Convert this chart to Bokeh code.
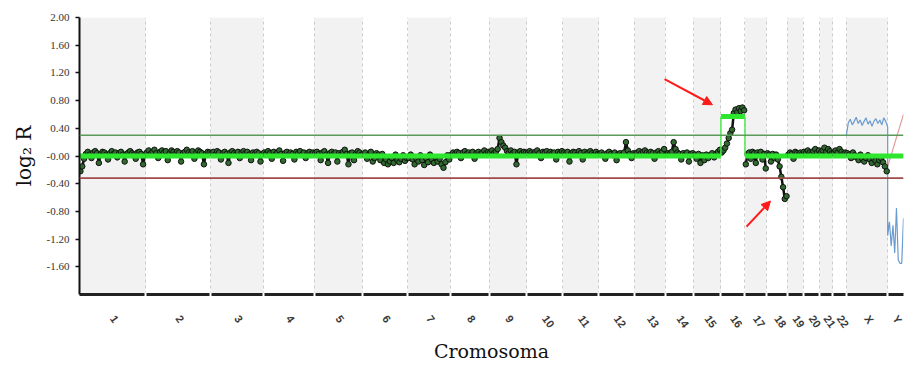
import math
from bokeh.plotting import figure
from bokeh.models import FixedTicker, Arrow, NormalHead, Span
from bokeh.embed import file_html
from bokeh.resources import INLINE

# ---------------- data ----------------
chromosomes = ["1", "2", "3", "4", "5", "6", "7", "8", "9", "10", "11", "12",
               "13", "14", "15", "16", "17", "18", "19", "20", "21", "22", "X", "Y"]
chrom_sizes_mb = [249.3, 243.2, 198.0, 191.2, 180.9, 171.1, 159.1, 146.4, 141.2, 135.5,
                  135.0, 133.9, 115.2, 107.3, 102.5, 90.4, 81.2, 78.1, 59.1, 63.0,
                  48.1, 51.3, 155.3, 59.4]

y_ticks = [2.0, 1.6, 1.2, 0.8, 0.4, 0.0, -0.4, -0.8, -1.2, -1.6]
y_tick_labels = ["2.00", "1.60", "1.20", "0.80", "0.40", "-0.00", "-0.40", "-0.80", "-1.20", "-1.60"]

gain_threshold = 0.30
loss_threshold = -0.32

# segmented mean per chromosome (green)
segment_means = [0, 0, 0, 0, 0, 0, 0, 0, 0, 0, 0, 0, 0, 0, 0, 0.57, 0, 0, 0, 0, 0, 0, 0, 0]

# probe log2 ratios per chromosome (black/green dots)
log2_chr1 = [-0.22, -0.15, -0.04, 0.03, 0.06, 0.02, -0.03, 0.05, 0.07, 0.04, -0.10, 0.03,
             0.06, 0.05, 0.02, -0.05, 0.04, 0.07, 0.03, 0.05, -0.02, 0.04, 0.06, 0.02,
             -0.08, 0.03, 0.05, 0.07, 0.04, 0.02, -0.04, 0.05, 0.06, 0.03, -0.12, 0.02]
log2_chr2 = [0.05, 0.08, 0.03, 0.06, 0.09, 0.04, -0.03, 0.06, 0.08, 0.05, 0.07, -0.06,
             0.04, 0.08, 0.06, 0.03, 0.07, 0.05, -0.08, 0.04, 0.06, 0.09, 0.05, 0.03,
             0.07, -0.04, 0.05, 0.08, 0.06, 0.04, -0.12, 0.03, 0.06, 0.05]
log2_chr3 = [0.04, 0.06, 0.02, 0.07, 0.05, -0.05, 0.04, 0.06, 0.03, -0.10, 0.05, 0.07,
             0.04, 0.02, 0.06, -0.03, 0.05, 0.07, 0.04, 0.06, 0.02, -0.06, 0.05, 0.03,
             0.06, 0.04, -0.08, 0.03]
log2_chr4 = [0.05, 0.03, 0.07, 0.04, -0.04, 0.06, 0.02, 0.05, 0.08, 0.03, -0.07, 0.04,
             0.06, 0.02, 0.05, 0.03, -0.05, 0.06, 0.04, 0.07, 0.02, 0.05, -0.03, 0.04,
             0.06, 0.03, 0.05]
log2_chr5 = [0.04, 0.06, 0.03, -0.06, 0.05, 0.07, 0.02, -0.10, 0.04, 0.06, 0.03, 0.05,
             -0.08, 0.04, 0.02, 0.06, 0.09, 0.03, -0.12, 0.04, 0.05, -0.06, 0.03, 0.07,
             0.05, 0.02]
log2_chr6 = [0.03, 0.05, -0.04, 0.02, 0.06, -0.08, -0.03, 0.04, 0.02, -0.06, 0.03, -0.10,
             -0.05, -0.12, -0.08, -0.03, -0.10, 0.02, -0.06, -0.09, -0.04, 0.01, -0.07, -0.03]
log2_chr7 = [-0.03, 0.02, -0.05, -0.12, -0.04, -0.08, 0.01, -0.06, -0.13, -0.03, -0.09, 0.02,
             -0.05, -0.10, -0.02, -0.08, -0.04, -0.12, -0.17, -0.09, 0.01, -0.05]
log2_chr8 = [0.02, 0.05, 0.03, 0.06, 0.04, -0.03, 0.05, 0.07, 0.03, 0.05, 0.02, 0.06,
             -0.04, 0.04, 0.06, 0.03, 0.05, 0.08, 0.04, 0.06]
log2_chr9 = [0.05, 0.08, 0.04, 0.06, 0.10, 0.26, 0.20, 0.15, 0.12, 0.07, 0.05, 0.08,
             0.04, 0.06, -0.12, 0.05, 0.07, 0.04, 0.06, 0.05]
log2_chr10 = [0.04, 0.07, 0.05, 0.03, 0.06, 0.08, 0.04, -0.03, 0.06, 0.05, 0.07, 0.03,
              0.06, 0.04, 0.05, -0.05, 0.06, 0.04, 0.07]
log2_chr11 = [0.05, 0.03, 0.06, -0.08, 0.04, 0.06, 0.05, 0.02, 0.07, 0.04, -0.05, 0.06,
              0.03, 0.05, 0.07, 0.04, 0.02, 0.06, 0.03]
log2_chr12 = [0.03, 0.05, 0.02, -0.04, 0.04, 0.06, 0.03, 0.01, 0.05, -0.06, 0.03, 0.04,
              0.02, 0.05, 0.20, 0.08, 0.03, -0.03, 0.04]
log2_chr13 = [0.03, 0.05, 0.07, 0.04, 0.06, 0.08, 0.05, 0.03, 0.06, 0.04, -0.04, 0.05,
              0.07, 0.04, 0.06, 0.10]
log2_chr14 = [0.02, 0.04, 0.03, 0.06, 0.20, 0.10, 0.05, 0.03, -0.05, 0.04, 0.02, 0.05,
              -0.08, 0.03, 0.04]
log2_chr15 = [0.02, -0.04, 0.03, -0.10, 0.01, -0.06, 0.02, -0.03, 0.01, 0.04, -0.02, 0.03,
              0.06, 0.09]
log2_chr16 = [0.05, 0.08, 0.12, 0.18, 0.26, 0.33, 0.38, 0.62, 0.67, 0.63, 0.69, 0.65,
              0.70, 0.66]
log2_chr17 = [-0.12, 0.03, 0.05, -0.04, 0.06, 0.04, -0.10, 0.05, 0.02, 0.06, -0.05, 0.03,
              -0.18]
log2_chr18 = [0.04, 0.02, -0.08, 0.03, -0.03, 0.02, -0.05, -0.15, -0.30, -0.45, -0.62, -0.58]
log2_chr19 = [0.02, 0.05, 0.03, -0.04, 0.06, 0.04, 0.02, 0.05, 0.03]
log2_chr20 = [0.06, 0.04, 0.08, 0.05, 0.03, 0.07, 0.10, 0.05, 0.08]
log2_chr21 = [0.05, 0.08, 0.12, 0.06, 0.10, 0.07, 0.04]
log2_chr22 = [0.04, 0.08, 0.05, 0.10, 0.06, 0.03, 0.05]
log2_chrX = [0.04, 0.02, -0.03, 0.05, 0.01, -0.02, -0.06, 0.02, -0.04, -0.08, -0.03, 0.01,
             -0.05, -0.10, -0.04, -0.07, -0.12, -0.06, -0.03, -0.09, -0.15, -0.22]
log2_chrY = []

# reference track (blue) on X and Y
blue_chrX = [0.30, 0.48, 0.53, 0.45, 0.50, 0.56, 0.47, 0.52, 0.44, 0.50, 0.55, 0.46,
             0.51, 0.43, 0.50, 0.54, 0.47, 0.52, 0.45, 0.55, 0.50, 0.42]
blue_chrY = [-1.15, -0.95, -1.30, -1.00, -1.40, -0.75, -1.50, -1.55, -1.55, -0.90]
# thin pink trace on Y
pink_chrY = [-0.15, 0.60]

# annotation arrows (data coordinates: Mb, log2 R)
arrow_x_start = [2198, 2506]
arrow_y_start = [1.11, -1.02]
arrow_x_end = [2378, 2596]
arrow_y_end = [0.74, -0.65]

all_log2 = [log2_chr1, log2_chr2, log2_chr3, log2_chr4, log2_chr5, log2_chr6, log2_chr7,
            log2_chr8, log2_chr9, log2_chr10, log2_chr11, log2_chr12, log2_chr13,
            log2_chr14, log2_chr15, log2_chr16, log2_chr17, log2_chr18, log2_chr19,
            log2_chr20, log2_chr21, log2_chr22, log2_chrX, log2_chrY]

# ---------------- derived positions ----------------
starts = []
acc = 0.0
for s in chrom_sizes_mb:
    starts.append(acc)
    acc += s
total = acc
ends = [a + s for a, s in zip(starts, chrom_sizes_mb)]
boundaries = starts + [total]
centers = [round(a + s / 2.0, 2) for a, s in zip(starts, chrom_sizes_mb)]

def spread(i, n):
    return [starts[i] + chrom_sizes_mb[i] * (k + 0.5) / n for k in range(n)]

def spread_full(i, n):
    if n == 1:
        return [starts[i]]
    return [starts[i] + chrom_sizes_mb[i] * k / (n - 1) for k in range(n)]

# ---------------- figure ----------------
p = figure(width=904, height=365, x_range=(0, total), y_range=(-2.0, 2.0),
           output_backend="svg", toolbar_location=None,
           min_border_left=79, min_border_right=1, min_border_top=17, min_border_bottom=67)
p.outline_line_color = None
p.background_fill_color = "white"

# shaded chromosome bands
shade_idx = [i for i in range(len(chromosomes)) if i % 2 == 0]
p.quad(left=[starts[i] for i in shade_idx], right=[ends[i] for i in shade_idx],
       bottom=-2.0, top=2.0, fill_color="#f2f2f2", line_color=None, level="image")

# dashed boundaries
p.ygrid.visible = False
p.xgrid.ticker = FixedTicker(ticks=boundaries[1:-1])
p.xgrid.grid_line_color = "#cccccc"
p.xgrid.grid_line_dash = "3 3"
p.xgrid.grid_line_width = 1

# thresholds
p.add_layout(Span(location=gain_threshold, dimension="width", line_color="#5c9a5c", line_width=1.6))
p.add_layout(Span(location=loss_threshold, dimension="width", line_color="#a04a4a", line_width=1.6))

# blue reference track
bx = spread_full(22, len(blue_chrX)) + spread_full(23, len(blue_chrY))
p.line(bx, blue_chrX + blue_chrY, line_color="#6a9bd1", line_width=1.2)
# pink trace
p.line(spread_full(23, len(pink_chrY)), pink_chrY, line_color="#e39a9a", line_width=1.2)

# probes
for i, vals in enumerate(all_log2):
    if not vals:
        continue
    xs = spread(i, len(vals))
    p.line(xs, vals, line_color="#111111", line_width=2.5)
    p.scatter(xs, vals, size=5.5, fill_color="#2f6a2f", line_color="#111111", line_width=1)

# segmentation (green)
for i, m in enumerate(segment_means):
    p.line([starts[i], ends[i]], [m, m], line_color="#2ee62e", line_width=5)
for i in range(1, len(segment_means)):
    if segment_means[i] != segment_means[i - 1]:
        b = starts[i]
        p.line([b, b], [segment_means[i - 1], segment_means[i]], line_color="#4ee84e", line_width=1.5)

# arrows
for xs0, ys0, xe, ye in zip(arrow_x_start, arrow_y_start, arrow_x_end, arrow_y_end):
    p.add_layout(Arrow(end=NormalHead(size=9, fill_color="#ff1a1a", line_color="#ff1a1a"),
                       x_start=xs0, y_start=ys0, x_end=xe, y_end=ye,
                       line_color="#ff1a1a", line_width=2))

# x axis
p.xaxis.ticker = FixedTicker(ticks=centers, minor_ticks=boundaries[1:-1])
p.xaxis.major_label_overrides = {c: n for c, n in zip(centers, chromosomes)}
p.xaxis.major_label_orientation = -0.95
p.xaxis.major_label_text_font = "Liberation Sans"
p.xaxis.major_label_text_font_size = "11px"
p.xaxis.major_label_text_font_style = "bold"
p.xaxis.major_label_text_color = "#3a3a3a"
p.xaxis.major_label_standoff = 16
p.xaxis.major_tick_line_color = None
p.xaxis.minor_tick_line_color = "white"
p.xaxis.minor_tick_in = 2
p.xaxis.minor_tick_out = 2
p.xaxis.minor_tick_line_width = 2
p.xaxis.axis_line_width = 3
p.xaxis.axis_line_color = "#222222"
p.xaxis.axis_label = "Cromosoma"
p.xaxis.axis_label_text_font = "DejaVu Serif"
p.xaxis.axis_label_text_font_style = "normal"
p.xaxis.axis_label_text_font_size = "19px"
p.xaxis.axis_label_text_color = "#111111"
p.xaxis.axis_label_standoff = 4

# y axis
p.yaxis.ticker = FixedTicker(ticks=y_ticks)
p.yaxis.major_label_overrides = {t: l for t, l in zip(y_ticks, y_tick_labels)}
p.yaxis.major_label_text_font = "Liberation Sans Narrow"
p.yaxis.major_label_text_font_size = "11px"
p.yaxis.major_label_text_color = "#333333"
p.yaxis.major_label_standoff = 6
p.yaxis.major_tick_in = 0
p.yaxis.major_tick_out = 4
p.yaxis.major_tick_line_color = "#111111"
p.yaxis.major_tick_line_width = 1.5
p.yaxis.minor_tick_line_color = None
p.yaxis.axis_line_width = 2
p.yaxis.axis_line_color = "#111111"
p.yaxis.axis_label = "log₂ R"
p.yaxis.axis_label_text_font = "DejaVu Serif"
p.yaxis.axis_label_text_font_style = "normal"
p.yaxis.axis_label_text_font_size = "20px"
p.yaxis.axis_label_text_color = "#111111"
p.yaxis.axis_label_standoff = 8

open("out.html", "w").write(file_html(p, INLINE))
